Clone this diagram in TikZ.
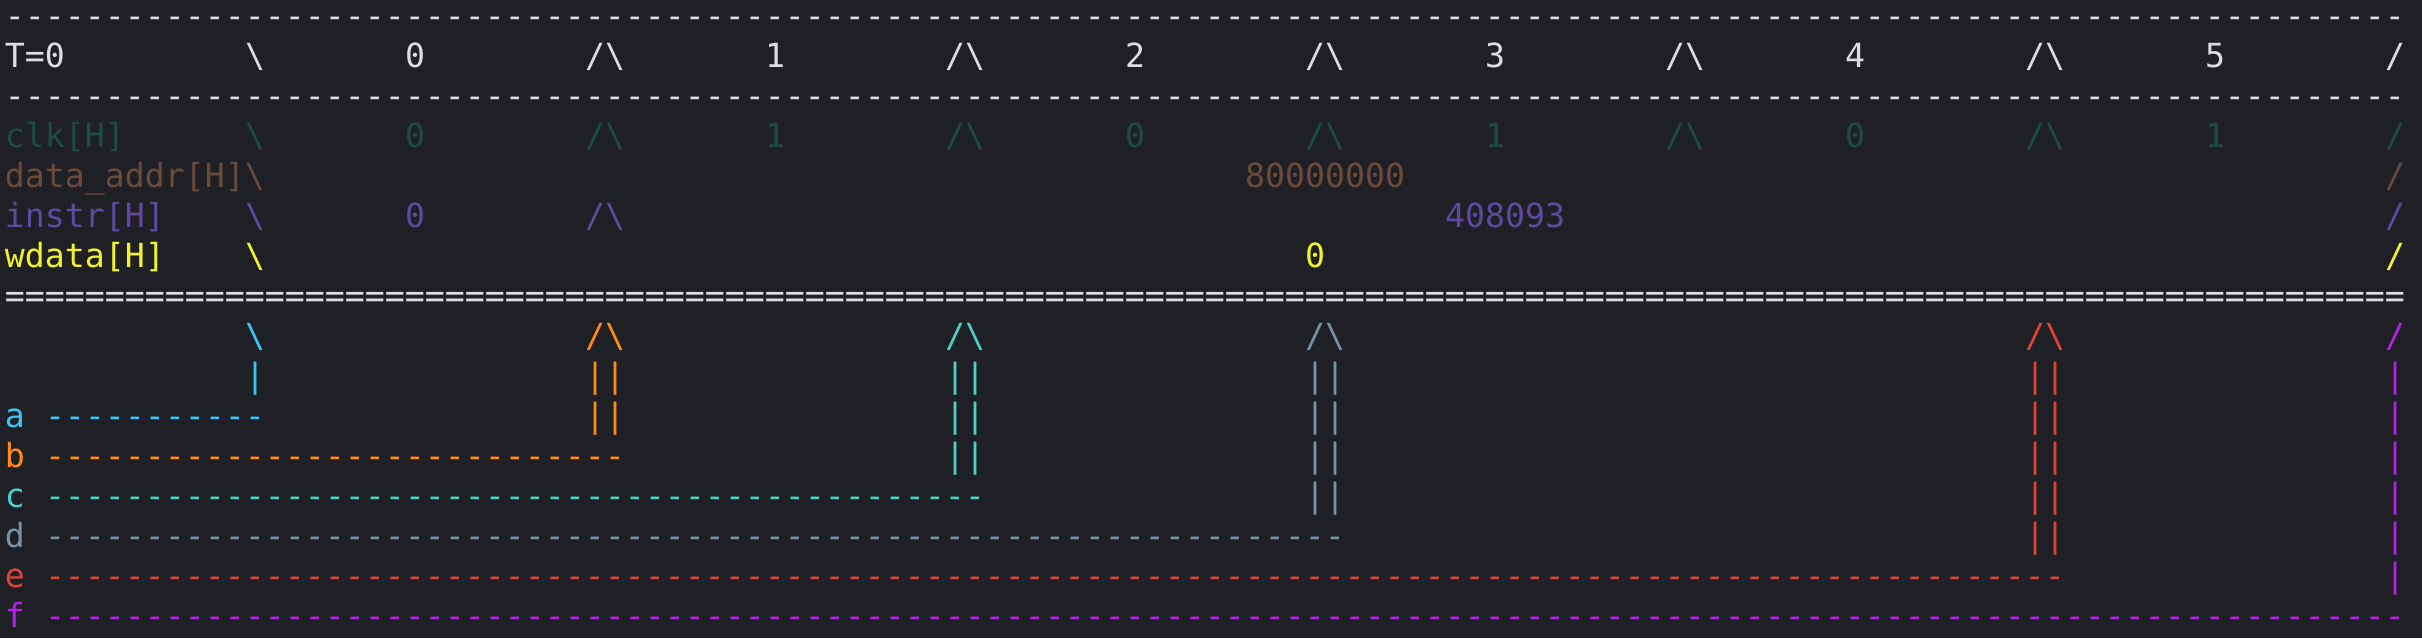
\documentclass[tikz,border=0pt]{standalone}
\usepackage{fontspec}
\setmonofont{DejaVu Sans Mono}

\definecolor{termbg}{HTML}{1F2025}
\definecolor{hdr}{HTML}{DCDDE2}
\definecolor{clkc}{HTML}{1B4D3C}
\definecolor{addrc}{HTML}{6B4A3A}
\definecolor{instrc}{HTML}{5E48A0}
\definecolor{wdatac}{HTML}{F2F22C}
\definecolor{siga}{HTML}{3CC4F4}
\definecolor{sigb}{HTML}{FF8A14}
\definecolor{sigc}{HTML}{4CCFC4}
\definecolor{sigd}{HTML}{7592A6}
\definecolor{sige}{HTML}{DD4434}
\definecolor{sigf}{HTML}{B71EEA}

\newcommand{\rep}[2]{\foreach \n in {1,...,#1}{#2}}
\newcommand{\bs}{\textbackslash}
\newcommand{\rise}{/\textbackslash}

\begin{document}
\begin{tikzpicture}[x=20pt, y=-40pt,
    term/.style={font=\ttfamily\fontsize{33.22}{40}\selectfont, anchor=base west, inner sep=0pt, outer sep=0pt}]
    \fill[termbg] (-0.25, -0.675) rectangle (120.85, 15.275);

    % time header
    \node[term, text=hdr] (rulea) at (0, 0) {\rep{120}{-}};
    \node[term, text=hdr] (tlabel) at (0, 1) {T=0};
    \node[term, text=hdr] (tfall) at (12, 1) {\bs};
    \foreach \k in {0,...,5}
        \node[term, text=hdr] (tnum\k) at ({20+18*\k}, 1) {\k};
    \foreach \k in {1,...,5}
        \node[term, text=hdr] (tedge\k) at ({11+18*\k}, 1) {\rise};
    \node[term, text=hdr] (tend) at (119, 1) {/};
    \node[term, text=hdr] (ruleb) at (0, 2) {\rep{120}{-}};

    % clk
    \node[term, text=clkc] (clk) at (0, 3) {clk[H]};
    \node[term, text=clkc] (clkfall) at (12, 3) {\bs};
    \foreach \k/\v in {0/0, 1/1, 2/0, 3/1, 4/0, 5/1}
        \node[term, text=clkc] (clkv\k) at ({20+18*\k}, 3) {\v};
    \foreach \k in {1,...,5}
        \node[term, text=clkc] (clkedge\k) at ({11+18*\k}, 3) {\rise};
    \node[term, text=clkc] (clkend) at (119, 3) {/};

    % data_addr
    \node[term, text=addrc] (addr) at (0, 4) {data\_addr[H]\bs};
    \node[term, text=addrc] (addrv) at (62, 4) {80000000};
    \node[term, text=addrc] (addrend) at (119, 4) {/};

    % instr
    \node[term, text=instrc] (instr) at (0, 5) {instr[H]};
    \node[term, text=instrc] (instrfall) at (12, 5) {\bs};
    \node[term, text=instrc] (instrv0) at (20, 5) {0};
    \node[term, text=instrc] (instredge) at (29, 5) {\rise};
    \node[term, text=instrc] (instrv1) at (72, 5) {408093};
    \node[term, text=instrc] (instrend) at (119, 5) {/};

    % wdata
    \node[term, text=wdatac] (wdata) at (0, 6) {wdata[H]};
    \node[term, text=wdatac] (wdatafall) at (12, 6) {\bs};
    \node[term, text=wdatac] (wdatav) at (65, 6) {0};
    \node[term, text=wdatac] (wdataend) at (119, 6) {/};

    \node[term, text=hdr] (rulec) at (0, 7) {\rep{120}{=}};

    % markers a-f
    \foreach \s/\c/\r/\edgetxt/\walltxt/\ndash in {a/12/10/\bs/|/11, b/29/11/\rise/||/29,
            c/47/12/\rise/||/47, d/65/13/\rise/||/65, e/101/14/\rise/||/101, f/119/15/{/}/|/118} {
        \node[term, text=sig\s] (edge\s) at (\c, 8) {\edgetxt};
        \pgfmathtruncatemacro{\lastrow}{\r-1}
        \foreach \q in {9,...,\lastrow}
            \node[term, text=sig\s] (wall\s\q) at (\c, \q) {\walltxt};
        \node[term, text=sig\s] (lbl\s) at (0, \r) {\s};
        \node[term, text=sig\s] (line\s) at (2, \r) {\rep{\ndash}{-}};
    }
\end{tikzpicture}
\end{document}
